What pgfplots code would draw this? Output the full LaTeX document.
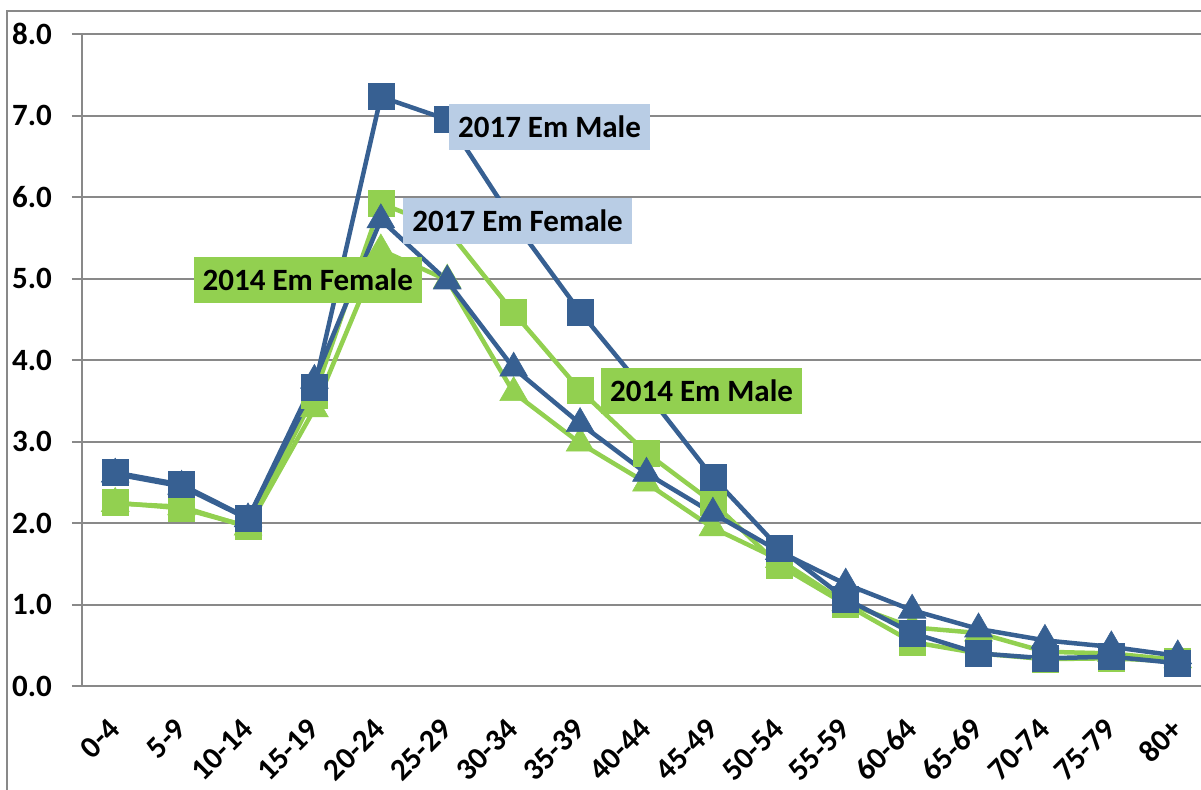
\documentclass[border=0pt]{standalone}
\usepackage{fontspec}
\setmainfont{Carlito}
\usepackage{pgfplots}
\pgfplotsset{compat=1.18}
\definecolor{dblue}{HTML}{376092}
\definecolor{lgreen}{HTML}{92D050}
\definecolor{lblue}{HTML}{B9CDE5}
\definecolor{gridgray}{HTML}{898989}
\begin{document}
\begin{tikzpicture}
\begin{axis}[
  at={(0,0)}, anchor=south west,
  scale only axis, width=559.5pt, height=326pt,
  xmin=-0.5, xmax=16.35, ymin=0, ymax=8,
  axis lines*=left, axis line style={gridgray, line width=1pt},
  xtick={0,...,16},
  xticklabels={0-4,5-9,10-14,15-19,20-24,25-29,30-34,35-39,40-44,45-49,50-54,55-59,60-64,65-69,70-74,75-79,80+},
  minor xtick={-0.5,0.5,...,16.5},
  xtick style={draw=none},
  minor tick length=5pt, major tick length=5pt,
  tick align=outside, tick pos=left,
  every tick/.style={gridgray, line width=1pt},
  minor x tick style={gridgray, line width=1pt},
  ytick={0,1,...,8},
  yticklabel={\pgfmathprintnumber[fixed, fixed zerofill, precision=1]{\tick}},
  ymajorgrids, major grid style={gridgray, line width=1pt},
  /pgf/number format/assume math mode=true,
  ticklabel style={font=\fontsize{15.5}{18}\selectfont\bfseries},
  xticklabel style={rotate=45, anchor=east, yshift=-9.6pt, xshift=-6.7pt},
  yticklabel style={xshift=-6.5pt},
  clip=false,
]
\addplot[lgreen, line width=2.25pt, mark=triangle*, mark size=8pt, mark options={solid, fill=lgreen, line width=0.3pt}]
 coordinates {(0,2.24)(1,2.20)(2,1.95)(3,3.40)(4,5.35)(5,4.98)(6,3.60)(7,2.98)(8,2.49)(9,1.94)(10,1.55)(11,1.02)(12,0.72)(13,0.65)(14,0.42)(15,0.40)(16,0.32)};
\addplot[lgreen, line width=2.25pt, mark=square*, mark size=6.5pt, mark options={solid, fill=lgreen, line width=0.3pt}]
 coordinates {(0,2.25)(1,2.18)(2,1.96)(3,3.57)(4,5.92)(5,5.60)(6,4.58)(7,3.63)(8,2.86)(9,2.25)(10,1.48)(11,1.00)(12,0.54)(13,0.40)(14,0.33)(15,0.34)(16,0.30)};
\addplot[dblue, line width=2.25pt, mark=triangle*, mark size=8pt, mark options={solid, fill=dblue, line width=0.3pt}]
 coordinates {(0,2.60)(1,2.45)(2,2.05)(3,3.75)(4,5.72)(5,4.97)(6,3.90)(7,3.22)(8,2.61)(9,2.12)(10,1.65)(11,1.25)(12,0.93)(13,0.70)(14,0.56)(15,0.48)(16,0.37)};
\addplot[dblue, line width=2.25pt, mark=square*, mark size=6.5pt, mark options={solid, fill=dblue, line width=0.3pt}]
 coordinates {(0,2.62)(1,2.47)(2,2.06)(3,3.66)(4,7.23)(5,6.95)(6,5.70)(7,4.59)(8,3.60)(9,2.56)(10,1.69)(11,1.07)(12,0.65)(13,0.40)(14,0.34)(15,0.36)(16,0.28)};
\coordinate (l1) at (axis cs:6.54,6.86);
\coordinate (l2) at (axis cs:6.06,5.71);
\coordinate (l3) at (axis cs:2.90,4.98);
\coordinate (l4) at (axis cs:8.83,3.62);
\end{axis}
\tikzset{lab/.style={font=\fontsize{15.5}{18}\selectfont\bfseries, text=black, minimum height=23pt, inner xsep=4.5pt, inner ysep=0pt}}
\node[lab, fill=lblue] at (l1) {2017 Em Male};
\node[lab, fill=lblue] at (l2) {2017 Em Female};
\node[lab, fill=lgreen] at (l3) {2014 Em Female};
\node[lab, fill=lgreen] at (l4) {2014 Em Male};
\draw[gridgray, line width=1pt] (-37.25pt,-60pt) -- (-37.25pt,337.5pt) -- (610pt,337.5pt);
\pgfresetboundingbox
\useasboundingbox (-41pt,-51.5pt) rectangle (559.5pt,343pt);
\end{tikzpicture}
\end{document}
